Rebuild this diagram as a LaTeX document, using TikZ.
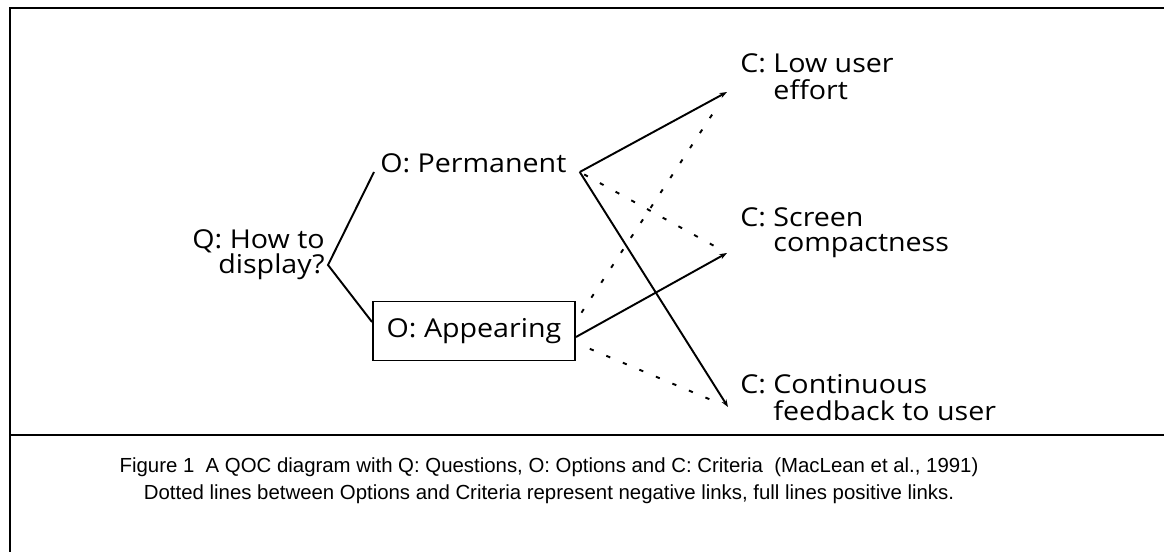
\documentclass[tikz,border=0pt]{standalone}
\usepackage{fontspec}
\setmainfont{Open Sans}[FakeStretch=1.1]
\newfontfamily\capfont{Liberation Sans}
\usetikzlibrary{arrows.meta}
\usetikzlibrary{calc,positioning}

\begin{document}
\begin{tikzpicture}[x=0.2mm, y=-0.2mm, >={Stealth[length=1.5mm, width=1.1mm]},
    frame/.style={line width=1.6pt},
    link/.style={line width=1.1pt},
    neg/.style={line width=1.1pt, dash pattern=on 2.4pt off 7.8pt},
    label/.style={inner sep=0pt, font=\fontsize{14.8}{14.4}\selectfont},
    optbox/.style={label, draw, line width=1.1pt, minimum width=40.4mm, minimum height=11.8mm}]

    \useasboundingbox (0,0) rectangle (1164,552);
    \draw[frame] (1164,8) -- (10,8) -- (10,552);
    \draw[frame] (10,435) -- (1164,435);

    % question and options
    \node[label, align=right, anchor=east] (q) at (325,255) {Q: How to\\display?};
    \node[label, anchor=base west] (perm) at (380,172) {O: Permanent};
    \node[optbox] (app) at (474,331) {O: Appearing};

    % criteria
    \node[label, anchor=base west] (low) at (740,72)
        {\begin{tabular}[t]{@{}l@{\ }l@{}}C: & Low user\\ & effort\end{tabular}};
    \node[label, anchor=base west] (scr) at (740,226)
        {\begin{tabular}[t]{@{}l@{\ }l@{}}C: & Screen\\ & compactness\end{tabular}};
    \node[label, anchor=base west] (con) at (740,393)
        {\begin{tabular}[t]{@{}l@{\ }l@{}}C: & Continuous\\ & feedback to user\end{tabular}};

    \coordinate (qv) at ([xshift=0.6mm, yshift=-2mm]q.east);
    \coordinate (p-out) at ([xshift=2.6mm]perm.base east);
    \coordinate (a-out) at ([yshift=-1.2mm]app.east);
    \coordinate (low-in) at ([shift={(-13,20)}]low.base west);
    \coordinate (scr-in) at ([shift={(-13,27)}]scr.base west);
    \coordinate (con-in) at ([shift={(-12,14)}]con.base west);

    \draw[link] ([xshift=-1.2mm]perm.base west) -- (qv) -- ([yshift=1.8mm]app.west);

    % full lines: positive links
    \draw[link, ->] (p-out) -- (low-in);
    \draw[link, ->] (p-out) -- (con-in);
    \draw[link, ->] (a-out) -- (scr-in);

    % dotted lines: negative links
    \draw[neg, shorten <=1mm, shorten >=2mm] (p-out) -- (scr-in);
    \draw[neg, shorten <=2mm, shorten >=3.5mm] ([yshift=2mm]app.east) -- (low-in);
    \draw[neg, shorten <=3mm, shorten >=4mm] ([yshift=-2.4mm]app.east) -- (con-in);

    \node[align=center, inner sep=0pt, font=\capfont\fontsize{11.6}{15.2}\selectfont] (cap) at (549,481)
        {Figure 1\ \ A QOC diagram with Q: Questions, O: Options and C: Criteria\ \ (MacLean et al., 1991)\\
         Dotted lines between Options and Criteria represent negative links, full lines positive links.};

\end{tikzpicture}
\end{document}
